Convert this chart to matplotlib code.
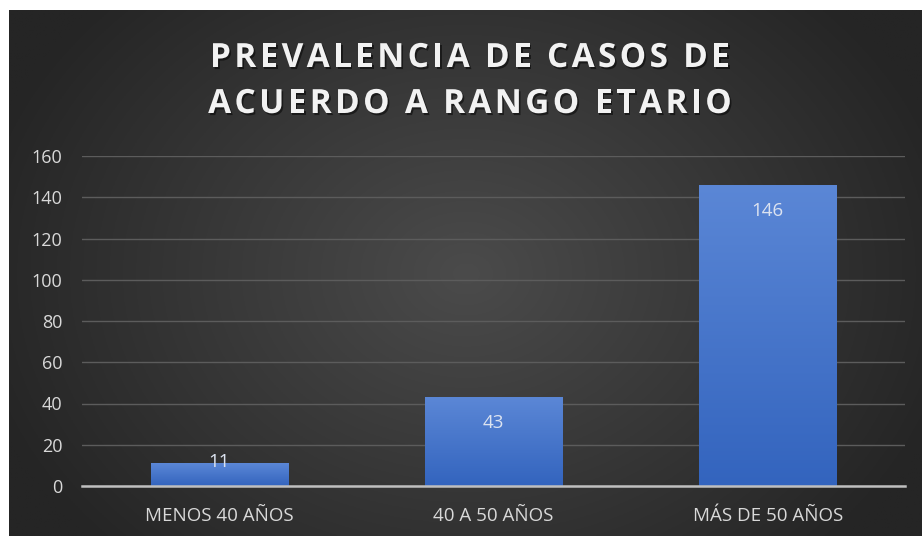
import numpy as np
import matplotlib
matplotlib.use("Agg")
import matplotlib.pyplot as plt
import matplotlib.patheffects as pe

categories = ["MENOS 40 AÑOS", "40 A 50 AÑOS", "MÁS DE 50 AÑOS"]
values = [11, 43, 146]
yticks = [0, 20, 40, 60, 80, 100, 120, 140, 160]
title_lines = ["PREVALENCIA DE CASOS DE", "ACUERDO A RANGO ETARIO"]

W, H = 922, 536
fig = plt.figure(figsize=(W / 100, H / 100), dpi=100)
fig.patch.set_facecolor("white")

# dark radial-gradient background panel
bx0, by0, bx1, by1 = 9 / W, 0.0, 921 / W, 1 - 10 / H
bg = fig.add_axes([bx0, by0, bx1 - bx0, by1 - by0])
bg.set_axis_off()
ny, nx = 300, 500
yy, xx = np.mgrid[0:ny, 0:nx]
cx, cy = nx * 0.5, ny * 0.5
r = np.sqrt(((xx - cx) / (nx * 0.55)) ** 2 + ((yy - cy) / (ny * 0.75)) ** 2)
r = np.clip(r, 0, 1)
inner = np.array([0x4b, 0x4b, 0x4b]) / 255
outer = np.array([0x25, 0x25, 0x25]) / 255
img = inner[None, None, :] * (1 - r[..., None]) + outer[None, None, :] * r[..., None]
bg.imshow(img, aspect="auto", extent=[0, 1, 0, 1], origin="upper")
bg.set_xlim(0, 1)
bg.set_ylim(0, 1)

# plot axes
ax_left, ax_right = 82, 905
y_top, y_bot = 156, 486
ax = fig.add_axes([ax_left / W, 1 - y_bot / H, (ax_right - ax_left) / W, (y_bot - y_top) / H])
ax.set_facecolor("none")
ax.set_xlim(-0.5, 2.5)
ax.set_ylim(0, 160)

x = np.arange(len(categories))
bars = ax.bar(x, values, width=0.5, color="#4472C4", zorder=3)

grad = np.linspace(0, 1, 256)[:, None]
top_c = np.array([0x5b, 0x87, 0xd6]) / 255
bot_c = np.array([0x33, 0x64, 0xbe]) / 255
gimg = top_c[None, None, :] * (1 - grad[..., None]) + bot_c[None, None, :] * grad[..., None]
gimg = np.repeat(gimg, 4, axis=1)
for b in bars:
    bx, bw, bh = b.get_x(), b.get_width(), b.get_height()
    im = ax.imshow(gimg, extent=[bx, bx + bw, 0, bh], aspect="auto", origin="upper", zorder=4)
    im.set_clip_path(b)
    b.set_facecolor("none")

ax.set_xlim(-0.5, 2.5)
ax.set_ylim(0, 160)

ax.set_yticks(yticks)
ax.set_yticklabels([str(t) for t in yticks])
ax.set_xticks(x)
ax.set_xticklabels(categories)
ax.tick_params(axis="both", length=0, colors="#d9d9d9")
ax.tick_params(axis="y", pad=14, labelsize=13)
ax.tick_params(axis="x", pad=15, labelsize=13.5)
for lab in ax.get_xticklabels() + ax.get_yticklabels():
    lab.set_fontfamily("Open Sans")
    lab.set_color("#d9d9d9")

ax.grid(axis="y", color="#5c5c5c", linewidth=1.0, zorder=0)
ax.set_axisbelow(True)
for s in ["top", "right", "left"]:
    ax.spines[s].set_visible(False)
ax.spines["bottom"].set_color("#bfbfbf")
ax.spines["bottom"].set_linewidth(1.8)
ax.spines["bottom"].set_zorder(5)

for xi, v in zip(x, values):
    if v < 20:
        ax.annotate(str(v), (xi, v), xytext=(0, 1), textcoords="offset points",
                    ha="center", va="center", fontsize=13.5, color="#dce3f0",
                    fontfamily="Open Sans", zorder=6)
    else:
        ax.annotate(str(v), (xi, v), xytext=(0, -12), textcoords="offset points",
                    ha="center", va="top", fontsize=13.5, color="#dce3f0",
                    fontfamily="Open Sans", zorder=6)

# letter-spaced title, drawn character by character
renderer = fig.canvas.get_renderer()
tfont = dict(fontsize=24, fontweight="bold", fontfamily="Open Sans")
tracking = 3.3  # px
line_base = [67, 113]
center_x = 470
shadow = [pe.withSimplePatchShadow(offset=(1.2, -1.5), shadow_rgbFace="black", alpha=0.5)]
for line, ly in zip(title_lines, line_base):
    widths = []
    for ch in line:
        t = fig.text(0, 0, ch if ch != " " else "I I", **tfont)
        w = t.get_window_extent(renderer).width
        if ch == " ":
            t2 = fig.text(0, 0, "II", **tfont)
            w = w - t2.get_window_extent(renderer).width
            t2.remove()
        t.remove()
        widths.append(w)
    total = sum(widths) + tracking * (len(line) - 1)
    px = center_x - total / 2
    for ch, w in zip(line, widths):
        if ch != " ":
            fig.text(px / W, 1 - ly / H, ch, ha="left", va="baseline", color="#f2f2f2",
                     path_effects=shadow, **tfont)
        px += w + tracking

fig.savefig("out.png", dpi=100, facecolor=fig.get_facecolor())
